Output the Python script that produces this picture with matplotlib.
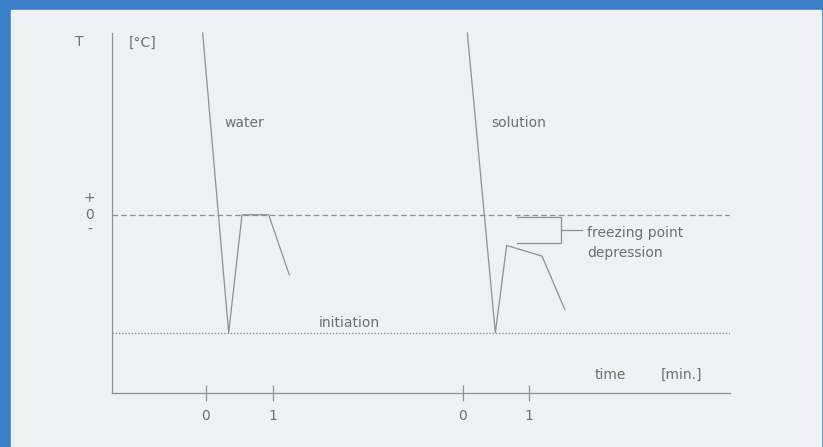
import matplotlib
matplotlib.use("Agg")
import matplotlib.pyplot as plt
from matplotlib.patches import Rectangle

plt.rcParams['font.family'] = ['DejaVu Sans']

# ---- data (time in minutes, temperature in arbitrary units) ----
solution_offset = 3.85          # solution time origin on the shared axis
water_t = [-0.05, 0.34, 0.54, 0.94, 1.25]
water_T = [15.4, -10.0, 0.0, 0.0, -5.1]
solution_t = [0.07, 0.49, 0.66, 1.19, 1.53]
solution_T = [15.4, -10.0, -2.6, -3.5, -8.0]
freezing_T = 0.0
initiation_T = -10.0
tick_pos = [0, 1, solution_offset + 0, solution_offset + 1]
tick_labels = ['0', '1', '0', '1']
bracket_t = [4.66, 5.32]
bracket_T = [-0.2, -2.4]

W, H = 823, 447
fig = plt.figure(figsize=(W / 100, H / 100), dpi=100)
fig.patch.set_facecolor('#3b7ec8')
fig.patches.append(Rectangle((11 / W, 0), (821 - 11) / W, (H - 10) / H,
                             transform=fig.transFigure, color='#eef0f3', zorder=-10))

# axes in pixel layout: left 112, right 730, top 33, bottom 393
ax = fig.add_axes([112 / W, (H - 393) / H, (730 - 112) / W, (393 - 33) / H])
ax.set_zorder(5)
ax.set_facecolor('none')
ax.set_xlim(-1.41, 7.86)
ax.set_ylim(-15.1, 15.4)
for s in ['top', 'right']:
    ax.spines[s].set_visible(False)
for s in ['left', 'bottom']:
    ax.spines[s].set_color('#909090')
    ax.spines[s].set_linewidth(0.9)

lc = '#8f8f8f'
tc = '#6e6e6e'
ax.plot(water_t, water_T, color=lc, lw=0.9, clip_on=False)
ax.plot([t + solution_offset for t in solution_t], solution_T, color=lc, lw=0.9, clip_on=False)

ax.axhline(freezing_T, color='#8f8f8f', lw=0.9, ls=(0, (4.5, 2.5)))
ax.axhline(initiation_T, color='#8f8f8f', lw=1.0, ls=(0, (1, 1.3)))

# freezing point depression bracket
ax.plot([bracket_t[0], bracket_t[1], bracket_t[1], bracket_t[0]],
        [bracket_T[0], bracket_T[0], bracket_T[1], bracket_T[1]], color=lc, lw=0.9)
mid = (bracket_T[0] + bracket_T[1]) / 2
ax.plot([bracket_t[1], bracket_t[1] + 0.32], [mid, mid], color=lc, lw=0.9)

fs = 10
ax.set_xticks(tick_pos)
ax.set_xticklabels(tick_labels, color=tc, fontsize=fs)
ax.tick_params(axis='x', direction='inout', length=11.5, width=0.9, color='#909090', pad=6)
ax.set_yticks([])

ax.text(bracket_t[1] + 0.4, -1.86, 'freezing point', color=tc, fontsize=fs,
        va='baseline', ha='left')
ax.text(bracket_t[1] + 0.4, -3.56, 'depression', color=tc, fontsize=fs,
        va='baseline', ha='left')
ax.text(0.27, 7.8, 'water', color=tc, fontsize=fs, ha='left', va='center')
ax.text(solution_offset + 0.43, 7.8, 'solution', color=tc, fontsize=fs, ha='left', va='center')
ax.text(1.69, -9.2, 'initiation', color=tc, fontsize=fs, ha='left', va='center')
ax.text(5.83, -13.6, 'time', color=tc, fontsize=fs, ha='left', va='center')
ax.text(6.82, -13.6, '[min.]', color=tc, fontsize=fs, ha='left', va='center')
ax.text(-1.9, 14.6, 'T', color=tc, fontsize=fs, ha='center', va='center', clip_on=False)
ax.text(-1.16, 14.6, '[°C]', color=tc, fontsize=fs, ha='left', va='center', clip_on=False)
ax.text(-1.75, 1.4, '+', color=tc, fontsize=fs, ha='center', va='center', clip_on=False)
ax.text(-1.75, 0.0, '0', color=tc, fontsize=fs, ha='center', va='center', clip_on=False)
ax.text(-1.75, -1.3, '-', color=tc, fontsize=fs, ha='center', va='center', clip_on=False)

fig.savefig('out.png', dpi=100, facecolor=fig.get_facecolor())
